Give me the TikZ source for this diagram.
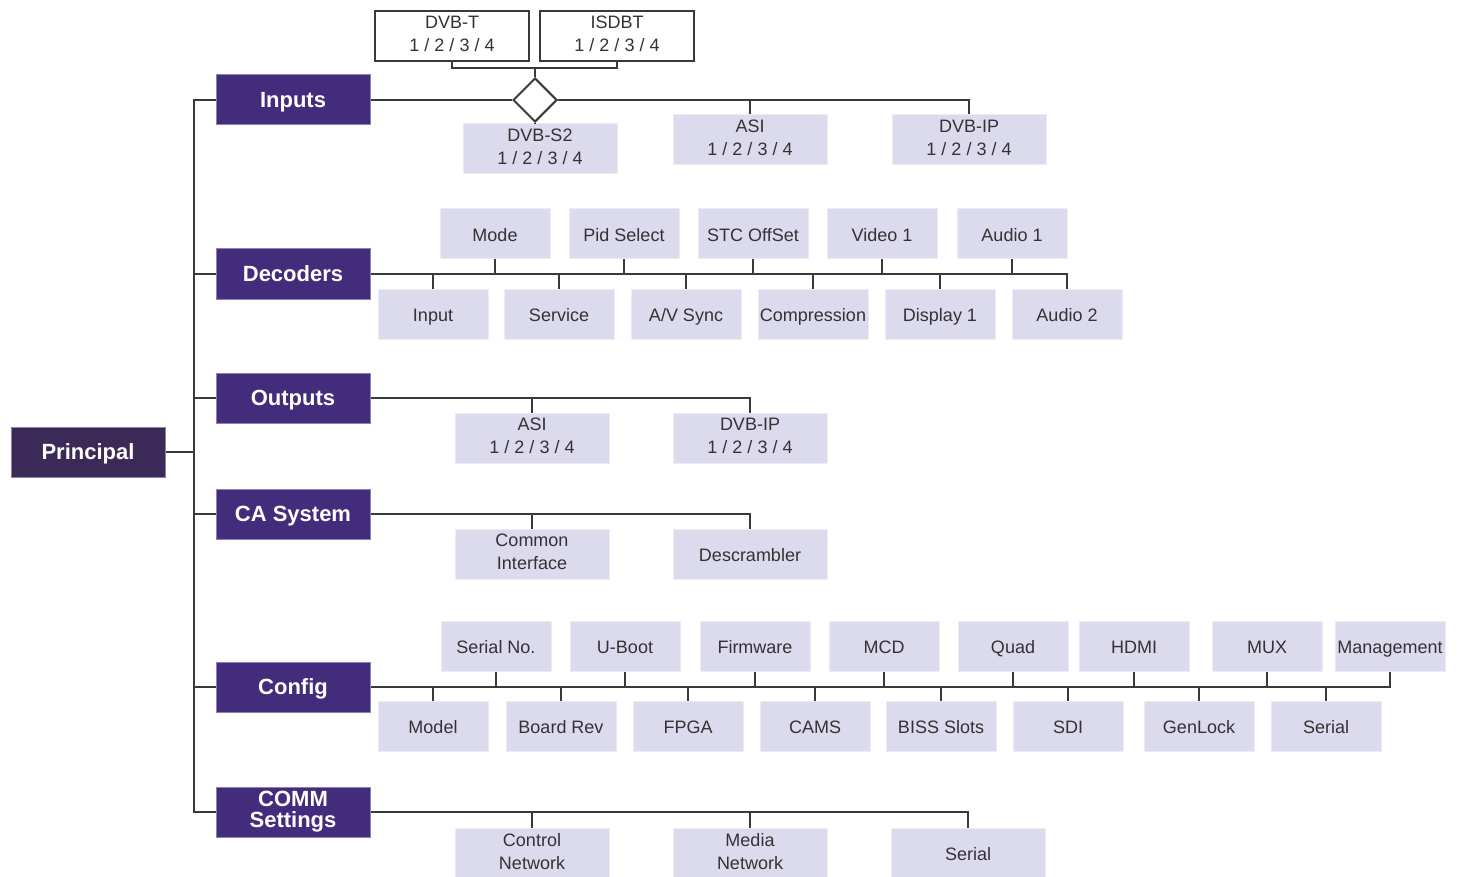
\documentclass[tikz,border=0pt]{standalone}
\usepackage{fontspec}
\setmainfont{Liberation Sans}
\usetikzlibrary{calc, shapes, arrows}
\usepackage{xcolor}
\definecolor{principalcol}{HTML}{3B2A58}
\definecolor{sectioncol}{HTML}{432C7B}
\definecolor{leafcol}{HTML}{DCDAED}
\definecolor{linecol}{HTML}{3A3A3A}
\newcommand{\leafstrut}{\rule[-4pt]{0pt}{23pt}}
\newcommand{\secstrut}{\rule[-3pt]{0pt}{22pt}}

\begin{document}
\begin{tikzpicture}[x=1pt, y=-1pt]
			\tikzset{section/.style={draw=sectioncol!60!white, line width=1pt, fill=sectioncol, text=white, font=\fontsize{22}{21}\selectfont\bfseries, minimum width=154pt, minimum height=50pt, inner sep=0pt, align=center, execute at begin node=\secstrut}}
			\tikzset{leaf/.style={draw=leafcol!50!white, line width=1pt, fill=leafcol, text=black!80, font=\fontsize{18}{23}\selectfont, minimum width=110pt, minimum height=50pt, inner sep=0pt, align=center, execute at begin node=\leafstrut}}
			\tikzset{wideleaf/.style={leaf, minimum width=154pt}}
			\tikzset{plain/.style={leaf, draw=linecol, line width=1.5pt, fill=white}}
			\tikzset{link/.style={draw=linecol, line width=2pt}}
			\useasboundingbox (0,0) rectangle (1461,877);
			
			% root and trunk
			\node[section, fill=principalcol] (principal) at (88,452) {Principal};
			\coordinate (trunk) at (194,452);
			\node[section] (inputs) at (293,100) {Inputs};
			\node[section] (decoders) at (293,274) {Decoders};
			\node[section] (outputs) at (293,398) {Outputs};
			\node[section] (casystem) at (293,514) {CA System};
			\node[section] (config) at (293,687) {Config};
			\node[section] (comm) at (293,812) {COMM\\Settings};
			\draw[link] (principal.east) -- (trunk);
			\draw[link] (inputs.west) -- (inputs.west -| trunk) -- (comm.west -| trunk) -- (comm.west);
			\foreach \sec in {decoders, outputs, casystem, config}
			\draw[link] (\sec.west) -- (\sec.west -| trunk);
			
			% inputs
			\node[plain, minimum width=154pt] (dvbt) at (452,36) {DVB-T\\1 / 2 / 3 / 4};
			\node[plain, minimum width=154pt] (isdbt) at (617,36) {ISDBT\\1 / 2 / 3 / 4};
			\node[diamond, draw=linecol, line width=2pt, fill=white, minimum width=44pt, minimum height=44pt, inner sep=0pt] (merge) at (535,100) {};
			\coordinate (bracket) at (535,68);
			\node[wideleaf] (dvbstwo) at (540,149) {DVB-S2\\1 / 2 / 3 / 4};
			\node[wideleaf] (asiin) at (750,140) {ASI\\1 / 2 / 3 / 4};
			\node[wideleaf] (dvbipin) at (969,140) {DVB-IP\\1 / 2 / 3 / 4};
			\draw[link] (dvbt.south) |- (bracket) -| (isdbt.south);
			\draw[link] (merge.north) -- (bracket);
			\draw[link] (inputs.east) -- (merge.west);
			\draw[link] (merge.east) -| (dvbipin.north);
			\draw[link] (merge.south) -- (merge.south |- dvbstwo.north);
			\draw[link] (asiin.north) -- (asiin.north |- merge.east);
			
			% decoders
			\foreach \name/\txt/\x in {mode/Mode/495, pidsel/Pid Select/624, stcoff/STC OffSet/753, videoa/Video 1/882, audioa/Audio 1/1012}
			\node[leaf] (\name) at (\x,234) {\txt};
			\foreach \name/\txt/\x in {input/Input/433, service/Service/559, avsync/{A/V Sync}/686, compress/Compression/813, displaya/Display 1/940, audiob/Audio 2/1067}
			\node[leaf] (\name) at (\x,314) {\txt};
			\draw[link] (decoders.east) -| (audiob.north);
			\foreach \name in {mode, pidsel, stcoff, videoa, audioa}
			\draw[link] (\name.south) -- (\name.south |- decoders.east);
			\foreach \name in {input, service, avsync, compress, displaya}
			\draw[link] (\name.north) -- (\name.north |- decoders.east);
			
			% outputs
			\node[wideleaf] (asiout) at (532,438) {ASI\\1 / 2 / 3 / 4};
			\node[wideleaf] (dvbipout) at (750,438) {DVB-IP\\1 / 2 / 3 / 4};
			\draw[link] (outputs.east) -| (dvbipout.north);
			\draw[link] (asiout.north) -- (asiout.north |- outputs.east);
			
			% ca system
			\node[wideleaf] (cominter) at (532,554) {Common\\Interface};
			\node[wideleaf] (descram) at (750,554) {Descrambler};
			\draw[link] (casystem.east) -| (descram.north);
			\draw[link] (cominter.north) -- (cominter.north |- casystem.east);
			
			% config
			\foreach \name/\txt/\x in {serialno/Serial No./496, uboot/U-Boot/625, firmware/Firmware/755, mcd/MCD/884, quad/Quad/1013, hdmi/HDMI/1134, mux/MUX/1267, manage/Management/1390}
			\node[leaf] (\name) at (\x,646) {\txt};
			\foreach \name/\txt/\x in {model/Model/433, boardrev/Board Rev/561, fpga/FPGA/688, cams/CAMS/815, biss/BISS Slots/941, sdi/SDI/1068, genlock/GenLock/1199, serialcfg/Serial/1326}
			\node[leaf] (\name) at (\x,726) {\txt};
			\draw[link] (config.east) -| (manage.south);
			\foreach \name in {serialno, uboot, firmware, mcd, quad, hdmi, mux}
			\draw[link] (\name.south) -- (\name.south |- config.east);
			\foreach \name in {model, boardrev, fpga, cams, biss, sdi, genlock, serialcfg}
			\draw[link] (\name.north) -- (\name.north |- config.east);
			
			% comm settings
			\node[wideleaf] (control) at (532,853) {Control\\Network};
			\node[wideleaf] (media) at (750,853) {Media\\Network};
			\node[wideleaf] (serialcomm) at (968,853) {Serial};
			\draw[link] (comm.east) -| (serialcomm.north);
			\foreach \name in {control, media}
			\draw[link] (\name.north) -- (\name.north |- comm.east);
\end{tikzpicture}
\end{document}
